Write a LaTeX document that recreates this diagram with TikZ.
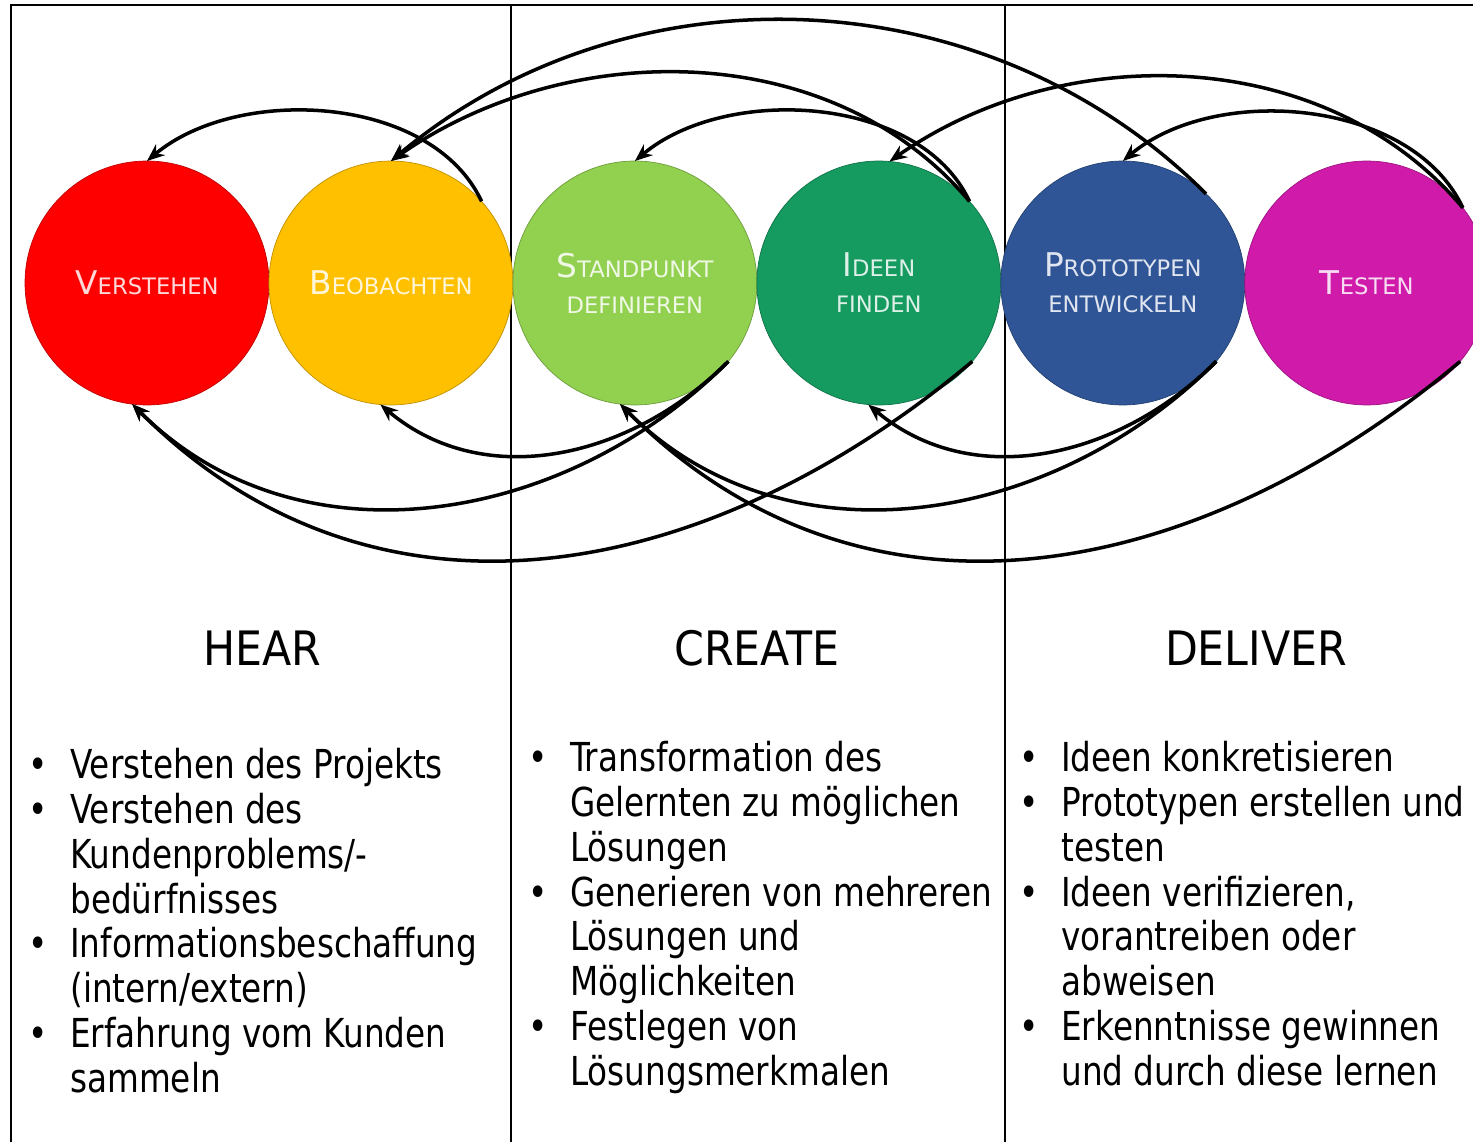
\documentclass[tikz,border=0pt]{standalone}
\usepackage{fontspec}
\setmainfont{DejaVu Sans Condensed}[FakeStretch=0.91]
\newfontfamily\headfont{DejaVu Sans Condensed}
\newfontfamily\labelfont{DejaVu Sans}
\usepackage{xcolor}
\usepackage{tikz}
\usetikzlibrary{arrows.meta, positioning}

\definecolor{cverst}{HTML}{FF0000}
\definecolor{cbeob}{HTML}{FFC000}
\definecolor{cstand}{HTML}{92D050}
\definecolor{cideen}{HTML}{159A60}
\definecolor{cproto}{HTML}{2F5597}
\definecolor{ctest}{HTML}{D01AAA}

\newcommand{\bigsc}[1]{{\fontsize{18.6}{20.4}\selectfont #1}}
\newcommand{\smallsc}[1]{{\fontsize{12.9}{20.4}\selectfont #1}}
\newcommand{\bul}{\llap{\textbullet\hspace{0.45cm}}}

\begin{document}
\begin{tikzpicture}[x=0.02cm, y=0.02cm, node distance=4.88cm,
    phase/.style={circle, minimum size=4.88cm, inner sep=0pt, outer sep=0pt,
        align=center, fill=#1, draw=#1!75!black, line width=0.4pt,
        text=white!85!#1, font=\labelfont\fontsize{18.6}{20.4}\selectfont},
    feedback/.style={-{Stealth[length=10pt, width=8pt]}, line width=2pt},
    frame/.style={line width=1.4pt},
    heading/.style={font=\headfont\fontsize{27}{32}\selectfont},
    bulletlist/.style={anchor=north west, align=left, inner sep=0pt,
        font=\fontsize{22.7}{25.5}\selectfont}]
\useasboundingbox (0,0) rectangle (1473,-1142);

% frame and columns
\draw[frame] (11,-1142) -- (11,-5) -- (1473,-5);
\draw[frame] (511,-5) -- (511,-1142);
\draw[frame] (1005,-5) -- (1005,-1142);

% phases
\node[phase=cverst] (0) at (147,-283) {\bigsc{V}\smallsc{ERSTEHEN}};
\node[phase=cbeob, right of=0] (1) {\bigsc{B}\smallsc{EOBACHTEN}};
\node[phase=cstand, right of=1] (2) {\bigsc{S}\smallsc{TANDPUNKT}\\ \smallsc{DEFINIEREN}};
\node[phase=cideen, right of=2] (3) {\bigsc{I}\smallsc{DEEN}\\ \smallsc{FINDEN}};
\node[phase=cproto, right of=3] (4) {\bigsc{P}\smallsc{ROTOTYPEN}\\ \smallsc{ENTWICKELN}};
\node[phase=ctest, right of=4] (5) {\bigsc{T}\smallsc{ESTEN}};

% arcs above
\draw[feedback] (1.42) to[out=115, in=40, looseness=0.9] (0.north);
\draw[feedback] (3.42) to[out=115, in=40, looseness=0.9] (2.north);
\draw[feedback] (5.38) to[out=115, in=40, looseness=0.9] (4.north);
\draw[feedback] (3.42) to[out=130, in=35, looseness=0.95] (1.north);
\draw[feedback] (5.38) to[out=130, in=35, looseness=0.95] (3.85);
\draw[feedback] (4.47) to[out=135, in=40, looseness=0.97] (1.north);

% arcs below
\draw[feedback] (2.-40) to[out=-135, in=-40] (1.-95);
\draw[feedback] (4.-40) to[out=-135, in=-40] (3.-95);
\draw[feedback] (2.-40) to[out=-135, in=-45] (0.-97);
\draw[feedback] (4.-40) to[out=-135, in=-45] (2.-97);
\draw[feedback] (3.-40) to[out=-140, in=-45, looseness=1.05] (0.-97);
\draw[feedback] (5.-40) to[out=-140, in=-45, looseness=1.05] (2.-97);

% headings
\node[heading] (hear) at (262,-648) {HEAR};
\node[heading] (create) at (757,-648) {CREATE};
\node[heading] (deliver) at (1256,-648) {DELIVER};

% lists
\node[bulletlist] (hearlist) at (70,-748) {\bul Verstehen des Projekts\\
    \bul Verstehen des\\ Kundenproblems/-\\ bedürfnisses\\
    \bul Informationsbeschaffung\\ (intern/extern)\\
    \bul Erfahrung vom Kunden\\ sammeln};
\node[bulletlist] (createlist) at (570,-741) {\bul Transformation des\\
    Gelernten zu möglichen\\ Lösungen\\
    \bul Generieren von mehreren\\ Lösungen und\\ Möglichkeiten\\
    \bul Festlegen von\\ Lösungsmerkmalen};
\node[bulletlist] (deliverlist) at (1061,-741) {\bul Ideen konkretisieren\\
    \bul Prototypen erstellen und\\ testen\\
    \bul Ideen verifizieren,\\ vorantreiben oder\\ abweisen\\
    \bul Erkenntnisse gewinnen\\ und durch diese lernen};
\end{tikzpicture}
\end{document}
